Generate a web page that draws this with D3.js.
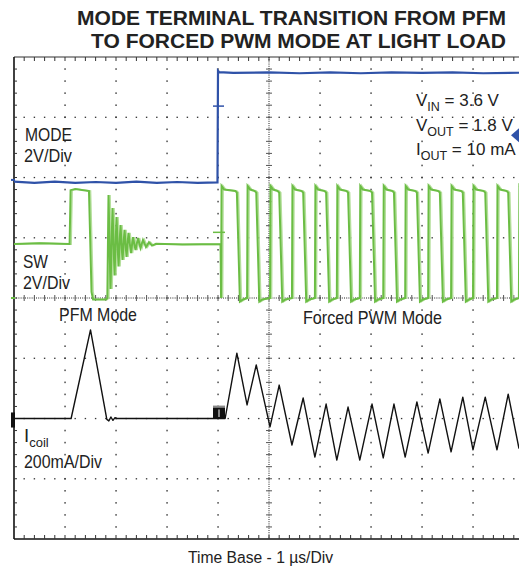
<!DOCTYPE html>
<html><head><meta charset="utf-8">
<script src="https://cdn.jsdelivr.net/npm/d3@7"></script>
<style>
body{margin:0;background:#fff;}
svg{display:block;}
text{font-family:"Liberation Sans",Arial,Helvetica,sans-serif;fill:#222;}
</style>
</head><body>
<svg id="c" width="519" height="571"></svg>
<script>
// ---------- data ----------
const titleLines = ["MODE TERMINAL TRANSITION FROM PFM", "TO FORCED PWM MODE AT LIGHT LOAD"];
const xAxisLabel = "Time Base - 1 \u00B5s/Div";
const conditions = [["V","IN"," = 3.6 V"],["V","OUT"," = 1.8 V"],["I","OUT"," = 10 mA"]];

// MODE channel (V, 2 V/div), time in µs
const modeT = [0, 0.4, 0.8, 1.2, 1.6, 2.0, 2.4, 2.8, 3.2, 3.6, 3.99, 4.0, 4.02, 4.3, 5.0, 5.6, 6.2, 6.8, 7.4, 8.0, 8.6, 9.2, 10];
const modeV = [-0.06, -0.1, -0.06, -0.1, -0.07, -0.1, -0.06, -0.1, -0.07, -0.1, -0.08, 3.62, 3.58, 3.55, 3.57, 3.54, 3.57, 3.54, 3.57, 3.55, 3.57, 3.54, 3.56];

// SW channel (V, 2 V/div): PFM pulse + ringing
const swPfmT = [0, 0.5, 1.09, 1.11, 1.2, 1.47, 1.52, 1.55, 1.80, 1.83, 1.853, 1.892, 1.931, 1.971, 2.010, 2.049, 2.088, 2.127, 2.167, 2.206, 2.245, 2.294, 2.333, 2.382, 2.431, 2.480, 2.529, 2.588, 2.647, 2.706, 2.784, 3.3, 4.05];
const swPfmV = [1.79, 1.82, 1.79, 3.58, 3.62, 3.55, 0.2, -0.05, -0.05, 0.0, 3.42, 0.30, 2.99, 0.75, 2.69, 1.05, 2.42, 1.26, 2.26, 1.36, 2.16, 1.49, 2.02, 1.59, 1.99, 1.66, 1.93, 1.69, 1.85, 1.74, 1.80, 1.78, 1.79];
// SW forced PWM switching edges (µs)
const swRise = [4.06, 4.57, 5.02, 5.45, 5.90, 6.33, 6.78, 7.24, 7.67, 8.12, 8.57, 9.00, 9.47, 9.90];
const swFall = [4.37, 4.75, 5.20, 5.67, 6.12, 6.55, 7.02, 7.45, 7.90, 8.35, 8.80, 9.24, 9.69, 10.14];
const swHigh = 3.6, swLow = 0;

// Coil current (mA, 200 mA/div)
const coilT = [0, 0.6, 1.12, 1.50, 1.82, 1.86, 1.90, 1.94, 1.98, 2.02, 3.0, 4.14, 4.37, 4.57, 4.75, 5.02, 5.20, 5.45, 5.67, 5.90, 6.12, 6.33, 6.55, 6.78, 7.02, 7.24, 7.45, 7.67, 7.90, 8.12, 8.35, 8.57, 8.80, 9.00, 9.24, 9.47, 9.69, 9.90, 10.14];
const coilI = [0, 0, 0, 294, -3, -8, 5, -6, 3, 0, 0, 0, 217, 45, 178, -28, 111, -88, 68, -128, 48, -138, 38, -138, 48, -131, 48, -128, 55, -115, 65, -111, 71, -104, 71, -104, 81, -98, 80];

// ---------- scales ----------
const svg = d3.select("#c");
const x = d3.scaleLinear().domain([0, 10]).range([14, 524]);
const yDiv = d3.scaleLinear().domain([0, 8]).range([539, 57]);
const yMode = d3.scaleLinear().domain([0, 2]).range([yDiv(5.96), yDiv(6.96)]);
const ySw = d3.scaleLinear().domain([0, 2]).range([yDiv(4), yDiv(5)]);
const yCoil = d3.scaleLinear().domain([0, 200]).range([yDiv(2), yDiv(3)]);

// ---------- grid ----------
const g = svg.append("g");
const minorX = d3.range(1, 50).map(k => k * 0.2);
const minorY = d3.range(1, 40).map(k => k * 0.2);
[1,2,3,4,6,7,8,9].forEach(d => {
  g.selectAll(null).data(minorY).enter().append("rect")
    .attr("x", x(d) - 0.6).attr("y", v => yDiv(v) - 0.8).attr("width", 1.3).attr("height", 1.6).attr("fill", "#333");
});
[1,2,3,5,6,7].forEach(d => {
  g.selectAll(null).data(minorX).enter().append("rect")
    .attr("x", v => x(v) - 0.7).attr("y", yDiv(d) - 0.6).attr("width", 1.4).attr("height", 1.3).attr("fill", "#333");
});
g.append("line").attr("x1", x(5)).attr("x2", x(5)).attr("y1", yDiv(8)).attr("y2", yDiv(0))
  .attr("stroke", "#222").attr("stroke-width", 1).attr("stroke-dasharray", "1,1.2");
g.append("line").attr("x1", x(0)).attr("x2", 519).attr("y1", yDiv(4)).attr("y2", yDiv(4))
  .attr("stroke", "#222").attr("stroke-width", 1).attr("stroke-dasharray", "1,1.2");
g.selectAll(null).data(minorY).enter().append("line")
  .attr("x1", x(5) - 3).attr("x2", x(5) + 3).attr("y1", v => yDiv(v)).attr("y2", v => yDiv(v))
  .attr("stroke", "#555").attr("stroke-width", 1);
g.selectAll(null).data(minorX).enter().append("line")
  .attr("x1", v => x(v)).attr("x2", v => x(v)).attr("y1", yDiv(4) - 3).attr("y2", yDiv(4) + 3)
  .attr("stroke", "#555").attr("stroke-width", 1);
g.append("line").attr("x1", x(0)).attr("x2", 519).attr("y1", yDiv(8)).attr("y2", yDiv(8)).attr("stroke", "#333").attr("stroke-width", 1.2);
g.append("line").attr("x1", x(0)).attr("x2", 519).attr("y1", yDiv(0)).attr("y2", yDiv(0)).attr("stroke", "#111").attr("stroke-width", 1.6);
g.append("line").attr("x1", x(0)).attr("x2", x(0)).attr("y1", yDiv(8)).attr("y2", yDiv(0)).attr("stroke", "#111").attr("stroke-width", 1.6);
g.selectAll(null).data(minorX).enter().append("line")
  .attr("x1", v => x(v)).attr("x2", v => x(v)).attr("y1", yDiv(8)).attr("y2", yDiv(8) + 4)
  .attr("stroke", "#333").attr("stroke-width", 1);
g.selectAll(null).data(minorX).enter().append("line")
  .attr("x1", v => x(v)).attr("x2", v => x(v)).attr("y1", yDiv(0)).attr("y2", yDiv(0) - 4)
  .attr("stroke", "#333").attr("stroke-width", 1);
g.selectAll(null).data(minorY).enter().append("line")
  .attr("x1", x(0)).attr("x2", x(0) + 3).attr("y1", v => yDiv(v)).attr("y2", v => yDiv(v))
  .attr("stroke", "#333").attr("stroke-width", 1);

// ---------- traces ----------
const swPts = swPfmT.map((t, i) => [t, swPfmV[i]]);
swRise.forEach((r, i) => {
  const f = swFall[i];
  swPts.push([r, swLow], [r + 0.01, swHigh + 0.12], [r + 0.06, swHigh], [f - 0.03, swHigh - 0.05],
             [f, swHigh - 0.1], [f + 0.03, 1.7], [f + 0.06, swLow - 0.12], [f + 0.12, swLow - 0.05]);
});
const swLine = d3.line().x(d => x(d[0])).y(d => ySw(d[1]));
svg.append("path").attr("d", swLine(swPts.map(d => [d[0] + 0.03, d[1]])))
  .attr("fill", "none").attr("stroke", "#b5df9c").attr("stroke-width", 1.6);
svg.append("path").attr("d", swLine(swPts))
  .attr("fill", "none").attr("stroke", "#6bbd44").attr("stroke-width", 2);

const modeLine = d3.line().x((d, i) => x(modeT[i])).y(d => yMode(d));
svg.append("path").attr("d", modeLine(modeV))
  .attr("fill", "none").attr("stroke", "#2f52a8").attr("stroke-width", 2.2);

const coilLine = d3.line().x((d, i) => x(coilT[i])).y(d => yCoil(d));
svg.append("path").attr("d", coilLine(coilI))
  .attr("fill", "none").attr("stroke", "#111").attr("stroke-width", 1.4).attr("stroke-linejoin", "round");

// ---------- markers ----------
const mx = x(4.0);
svg.append("line").attr("x1", mx - 5).attr("x2", mx + 6).attr("y1", yMode(2.45)).attr("y2", yMode(2.45)).attr("stroke", "#2f52a8").attr("stroke-width", 1.5);
svg.append("line").attr("x1", mx - 5).attr("x2", mx + 7).attr("y1", ySw(2.18)).attr("y2", ySw(2.18)).attr("stroke", "#6bbd44").attr("stroke-width", 1.5);
svg.append("rect").attr("x", mx - 5).attr("y", yCoil(42)).attr("width", 12).attr("height", yCoil(0) - yCoil(42)).attr("fill", "#111");
svg.append("rect").attr("x", mx - 5).attr("y", yCoil(42)).attr("width", 12).attr("height", 2).attr("fill", "#888");
svg.append("line").attr("x1", mx + 1).attr("x2", mx + 1).attr("y1", yCoil(30)).attr("y2", yCoil(5)).attr("stroke", "#fff").attr("stroke-width", 1);
svg.append("rect").attr("x", 11).attr("y", yCoil(20)).attr("width", 4).attr("height", yCoil(-30) - yCoil(20)).attr("fill", "#111");
svg.append("rect").attr("x", 11).attr("y", ySw(0) - 1).attr("width", 4).attr("height", 2).attr("fill", "#6bbd44");
svg.append("rect").attr("x", 11).attr("y", yMode(0) - 1).attr("width", 4).attr("height", 2).attr("fill", "#2f52a8");
const ay = yMode(1.48);
svg.append("path").attr("d", `M511,${ay} L519,${ay - 7} L519,${ay + 7} Z`).attr("fill", "#2f52a8");

// ---------- text ----------
titleLines.forEach((t, i) => {
  svg.append("text").attr("x", 506).attr("y", 25 + i * 23.3).attr("text-anchor", "end")
    .attr("font-size", 21).attr("font-weight", "bold").attr("fill", "#111").text(t);
});
function label(xp, yp, txt, size, len) {
  svg.append("text").attr("x", xp).attr("y", yp).attr("font-size", size)
    .attr("textLength", len).attr("lengthAdjust", "spacingAndGlyphs").text(txt);
}
label(25, 141, "MODE", 18.6, 47);
label(24, 162, "2V/Div", 18.6, 48);
label(23, 268, "SW", 18.6, 25);
label(23, 289, "2V/Div", 18.6, 47);
label(59, 321, "PFM Mode", 18.6, 78);
label(303, 324, "Forced PWM Mode", 18.6, 139);
label(24, 468, "200mA/Div", 18.6, 78);
label(188, 563, xAxisLabel, 16, 145);
const ic = svg.append("text").attr("x", 24).attr("y", 442).attr("font-size", 18.6);
ic.append("tspan").text("I");
ic.append("tspan").attr("font-size", 13).attr("dy", 5).text("coil");
conditions.forEach((c, i) => {
  const t = svg.append("text").attr("x", 416).attr("y", 106 + i * 24.5).attr("font-size", 17);
  t.append("tspan").text(c[0]);
  t.append("tspan").attr("font-size", 12.5).attr("dy", 5).text(c[1]);
  t.append("tspan").attr("dy", -5).text(c[2]);
});
</script>
</body></html>
